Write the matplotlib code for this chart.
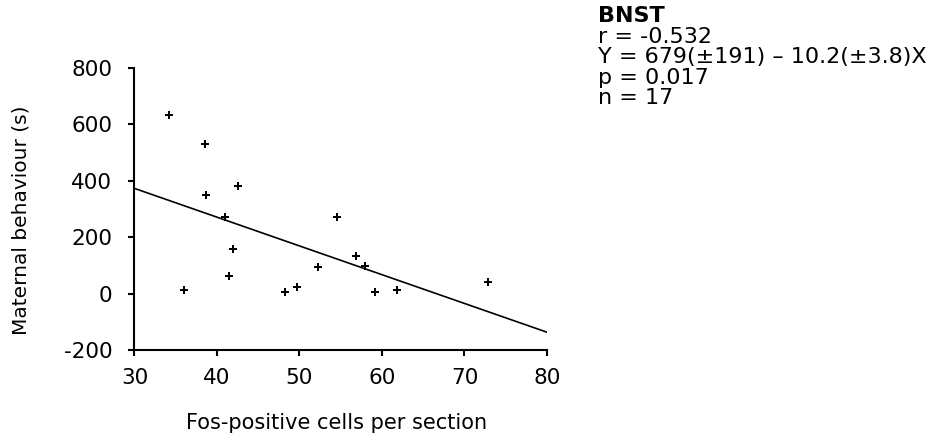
import matplotlib
matplotlib.use("Agg")
import matplotlib.pyplot as plt
import numpy as np

# Data
fos_cells = [34.2, 38.5, 38.7, 42.6, 41.0, 41.9, 41.4, 36.0, 48.2, 49.7,
             52.3, 54.5, 56.9, 57.9, 59.2, 61.8, 72.9]
maternal = [635, 530, 350, 380, 270, 157, 63, 14, 6, 24,
            95, 270, 132, 98, 6, 11, 42]
intercept = 679
slope = -10.2
xticks = [30, 40, 50, 60, 70, 80]
yticks = [-200, 0, 200, 400, 600, 800]
stats_lines = ["r = -0.532", "Y = 679(\u00b1191) \u2013 10.2(\u00b13.8)X", "p = 0.017", "n = 17"]
title = "BNST"

plt.rcParams['font.family'] = ['DejaVu Sans']
plt.rcParams['axes.unicode_minus'] = False

fig = plt.figure(figsize=(9.45, 4.43), dpi=100)
ax = fig.add_axes([0.1423, 0.21, 0.4365, 0.6365])

ax.plot(fos_cells, maternal, linestyle='none', marker='P', markersize=5.5,
        color='black', markeredgewidth=0)

xl = np.array([xticks[0], xticks[-1]])
ax.plot(xl, intercept + slope * xl, color='black', linewidth=1.2)

ax.set_xlim(xticks[0], xticks[-1])
ax.set_ylim(yticks[0], yticks[-1])
ax.set_xticks(xticks)
ax.set_yticks(yticks)
ax.spines['top'].set_visible(False)
ax.spines['right'].set_visible(False)
for s in ['left', 'bottom']:
    ax.spines[s].set_linewidth(1.5)
ax.tick_params(axis='both', direction='out', length=4, width=1.5,
               labelsize=15.5, colors='black')
ax.tick_params(axis='x', pad=9)
ax.tick_params(axis='y', pad=12)

ax.set_xlabel("Fos-positive cells per section", fontsize=15, va='center')
ax.xaxis.set_label_coords(0.49, -0.26)
ax.set_ylabel("Maternal behaviour (s)", fontsize=14.5, va='center')
ax.yaxis.set_label_coords(-0.275, 0.46)

fig.text(598 / 945, 1 - 16 / 443, title, fontsize=16, fontweight='bold',
         va='center', ha='left')
for i, line in enumerate(stats_lines):
    fig.text(598 / 945, 1 - (37 + 20.5 * i) / 443, line, fontsize=16,
             va='center', ha='left')

fig.savefig("out.png", dpi=100)
